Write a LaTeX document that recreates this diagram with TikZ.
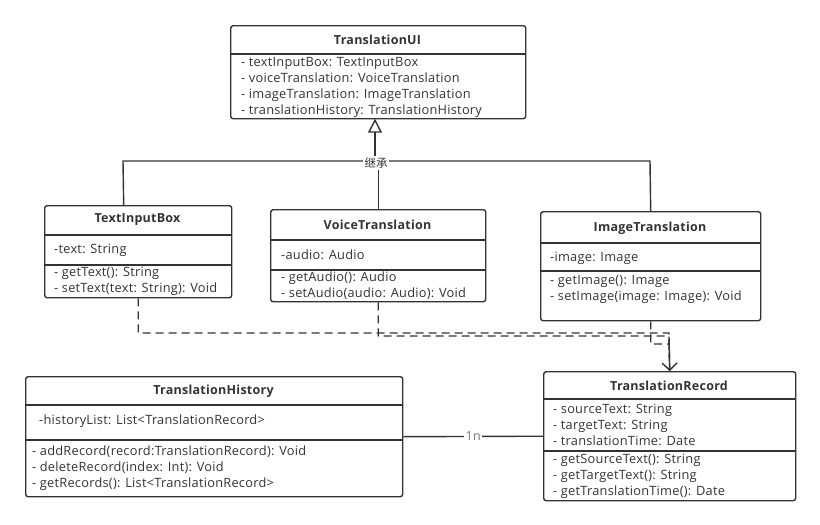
\documentclass[tikz,border=0pt]{standalone}
\usepackage{fontspec}
\setmainfont{Open Sans}[LetterSpace=2]
\newfontfamily\cjk{Noto Sans CJK SC}
\usetikzlibrary{arrows.meta,positioning}

\definecolor{umlline}{HTML}{333333}
\definecolor{umltext}{HTML}{333333}
\definecolor{umlgray}{HTML}{777777}

\tikzstyle{classbox} = [rectangle, rounded corners=2.5pt, draw=umlline, line width=1.4pt, anchor=north west, inner sep=0pt]
\tikzstyle{classname} = [inner sep=0pt, font=\fontsize{12.5}{13}\selectfont\bfseries, text=umltext]
\tikzstyle{member} = [anchor=west, inner sep=0pt, font=\fontsize{12.8}{13}\selectfont, text=umltext, text height=9pt, text depth=2.5pt]
\tikzstyle{sep} = [draw=umlline, line width=1.4pt]
\tikzstyle{inherit} = [draw=umlline, line width=1.4pt]
\tikzstyle{dep} = [draw=umlline, line width=1.4pt, dash pattern=on 8pt off 5pt]
\tikzstyle{arrow} = [dep, -{Straight Barb[length=7pt, width=15pt, line width=1.4pt]}]
\tikzstyle{mult} = [fill=white, inner sep=1.5pt, font=\fontsize{12.5}{13}\selectfont, text=umlgray]

\begin{document}
\begin{tikzpicture}[x=1pt, y=-1pt]
        \useasboundingbox (0,0) rectangle (820,525);

        % TranslationUI
        \node (ui) [classbox, minimum width=295, minimum height=93] at (230,25) {};
        \node (uiname) [classname] at (377.5,40) {TranslationUI};
        \draw [sep] (ui.west |- 0,54) -- (ui.east |- 0,54);
        \node [member] at (241,63) {- textInputBox: TextInputBox};
        \node [member] at (241,79) {- voiceTranslation: VoiceTranslation};
        \node [member] at (241,95) {- imageTranslation: ImageTranslation};
        \node [member] at (241,111) {- translationHistory: TranslationHistory};

        % TextInputBox
        \node (tib) [classbox, minimum width=187, minimum height=92] at (44,205) {};
        \node (tibname) [classname] at (137.5,220) {TextInputBox};
        \draw [sep] (tib.west |- 0,235) -- (tib.east |- 0,235);
        \draw [sep] (tib.west |- 0,265) -- (tib.east |- 0,265);
        \node [member] at (54,250) {-text: String};
        \node [member] at (54,273) {- getText(): String};
        \node [member] at (54,289) {- setText(text: String): Void};

        % VoiceTranslation
        \node (voice) [classbox, minimum width=215, minimum height=92] at (270,209) {};
        \node (voicename) [classname] at (377.5,225) {VoiceTranslation};
        \draw [sep] (voice.west |- 0,240) -- (voice.east |- 0,240);
        \draw [sep] (voice.west |- 0,270) -- (voice.east |- 0,270);
        \node [member] at (281,256) {-audio: Audio};
        \node [member] at (281,278) {- getAudio(): Audio};
        \node [member] at (281,294) {- setAudio(audio: Audio): Void};

        % ImageTranslation
        \node (img) [classbox, minimum width=220, minimum height=109] at (540,211) {};
        \node (imgname) [classname] at (650,228) {ImageTranslation};
        \draw [sep] (img.west |- 0,243) -- (img.east |- 0,243);
        \draw [sep] (img.west |- 0,271) -- (img.east |- 0,271);
        \node [member] at (550,258) {-image: Image};
        \node [member] at (550,281) {- getImage(): Image};
        \node [member] at (550,297) {- setImage(image: Image): Void};

        % TranslationHistory
        \node (hist) [classbox, minimum width=377, minimum height=120] at (25,376) {};
        \node (histname) [classname] at (213.5,391) {TranslationHistory};
        \draw [sep] (hist.west |- 0,405) -- (hist.east |- 0,405);
        \draw [sep] (hist.west |- 0,440) -- (hist.east |- 0,440);
        \node [member] at (39,421) {-historyList: List<TranslationRecord>};
        \node [member] at (32,452) {- addRecord(record:TranslationRecord): Void};
        \node [member] at (32,468) {- deleteRecord(index: Int): Void};
        \node [member] at (32,484) {- getRecords(): List<TranslationRecord>};

        % TranslationRecord
        \node (rec) [classbox, minimum width=252, minimum height=129] at (543,371) {};
        \node (recname) [classname] at (669,386) {TranslationRecord};
        \draw [sep] (rec.west |- 0,399) -- (rec.east |- 0,399);
        \draw [sep] (rec.west |- 0,451) -- (rec.east |- 0,451);
        \node [member] at (553,410) {- sourceText: String};
        \node [member] at (553,426) {- targetText: String};
        \node [member] at (553,442) {- translationTime: Date};
        \node [member] at (553,460) {- getSourceText(): String};
        \node [member] at (553,476) {- getTargetText(): String};
        \node [member] at (553,492) {- getTranslationTime(): Date};

        % inheritance
        \coordinate (barleft) at (123,161);
        \coordinate (barright) at (650,161);
        \draw [inherit] ([xshift=-14.5pt]tib.north) -- (barleft) -- (barright) -- (img.north);
        \node (inh) [fill=white, inner sep=1.5pt, font=\cjk\fontsize{11.5}{13}\selectfont, text=umltext] at (376,163) {继承};
        \draw [inherit] (inh.south -| voice.north) -- (voice.north);
        \draw [inherit, -{Triangle[open, length=14pt, width=14pt, line width=1.4pt]}] (inh.north -| 375,0) -- (375,118.7);

        % dependencies
        \coordinate (d1) at (669,333);
        \coordinate (d2) at (669,336);
        \coordinate (d3) at (669,344);
        \draw [dep] (voice.south) |- (d2) -- (rec.north);
        \draw [dep] (img.south) |- (d3) -- (rec.north);
        \draw [arrow] (tib.south) |- (d1) -- (rec.north);

        % association
        \draw [inherit] (hist.east) -- node[mult] {1n} (rec.west);
    \end{tikzpicture}
\end{document}
